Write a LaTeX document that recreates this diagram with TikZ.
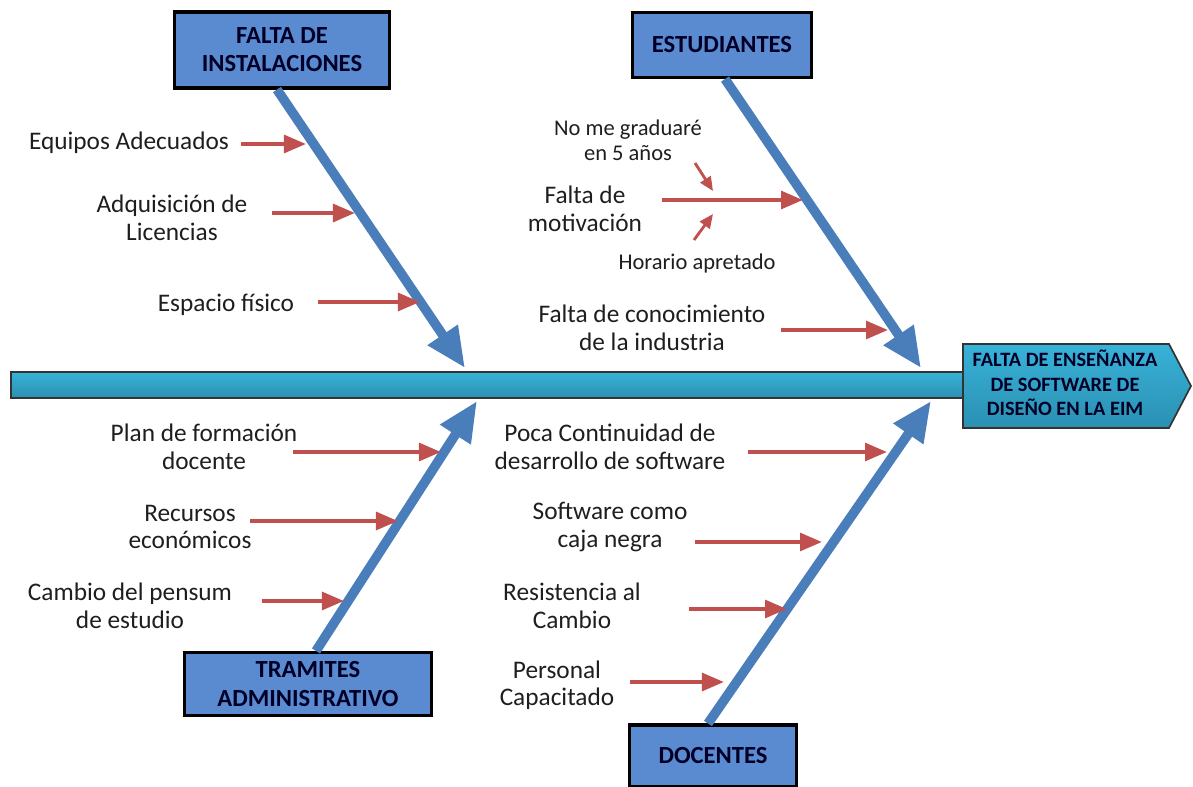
\documentclass[tikz,border=0pt]{standalone}
\usepackage{fontspec}
\setmainfont{Carlito}
\definecolor{BoneBlue}{HTML}{4A7EBB}
\definecolor{BoxBlue}{HTML}{5A8AD0}
\definecolor{SpineTop}{HTML}{38B2D8}
\definecolor{SpineBottom}{HTML}{2A90B2}
\definecolor{CauseRed}{HTML}{C0504D}
\definecolor{LabelText}{HTML}{1E1E1E}
\usetikzlibrary{arrows.meta,calc}

\begin{document}
\begin{tikzpicture}[
  x=0.025cm, y=-0.025cm,
  cat/.style={
    draw=black,
    line width=2.2pt,
    fill=BoxBlue,
    align=center,
    text=black!85!blue,
    font=\fontsize{17.5}{20}\selectfont\bfseries
  },
  lbl/.style={
    align=center,
    text=LabelText,
    font=\fontsize{18}{19.5}\selectfont
  },
  sublbl/.style={lbl, font=\fontsize{16}{17.5}\selectfont},
  tube/.style={draw=black!80, line width=1.2pt, top color=SpineTop, bottom color=SpineBottom},
  bone/.style={BoneBlue, line width=6.8pt, -{Triangle[length=1.0cm,width=0.85cm]}},
  cause/.style={CauseRed, line width=2.9pt, -{Triangle[length=0.55cm,width=0.44cm]}},
  subcause/.style={CauseRed, line width=2pt, -{Triangle[length=0.35cm,width=0.3cm]}}
]
\useasboundingbox (0,0) rectangle (1193,787);

% =========================================================
% SPINE AND EFFECT
% =========================================================

\node[tube, minimum width=23.83cm, minimum height=0.64cm, inner sep=0pt] (spine) at (488,385) {};

% pentagon head, text node on top
\coordinate (headNW) at (963,344);
\coordinate (headSW) at (963,428);
\coordinate (headTip) at (1191,386);
\draw[tube] (headNW) -- (1169,344) -- (headTip) -- (1169,428) -- (headSW) -- cycle;

\node[
  align=center, text=black!85!blue,
  font=\fontsize{14.5}{17.5}\selectfont\bfseries
] (effect) at (1065,383)
{FALTA DE ENSEÑANZA\\DE SOFTWARE DE\\DISEÑO EN LA EIM};

% =========================================================
% CATEGORIES
% =========================================================

\node[cat, minimum width=5.375cm, minimum height=1.9cm] (inst) at (282,50)
{FALTA DE\\INSTALACIONES};

\node[cat, minimum width=4.475cm, minimum height=1.625cm] (estud) at (722,45)
{ESTUDIANTES};

\node[cat, minimum width=6.175cm, minimum height=1.575cm] (tram) at (308,684)
{TRAMITES\\ADMINISTRATIVO};

\node[cat, minimum width=4.175cm, minimum height=1.55cm] (doc) at (713,756)
{DOCENTES};

\coordinate (tipInst) at (465,368);
\coordinate (tipEstud) at (921,368);
\coordinate (tipTram) at (477,401);
\coordinate (tipDoc) at (931,401);

\draw[bone] ([xshift=-0.125cm]inst.south) -- (tipInst);
\draw[bone] ([xshift=0.075cm]estud.south) -- (tipEstud);
\draw[bone] ([xshift=0.2cm]tram.north) -- (tipTram);
\draw[bone] ([xshift=-0.125cm]doc.north) -- (tipDoc);

% =========================================================
% CAUSES -- FALTA DE INSTALACIONES
% =========================================================

\node[lbl] (equipos) at (129,143) {Equipos Adecuados};
\node[lbl] (licencias) at (172,218) {Adquisición de\\Licencias};
\node[lbl] (espacio) at (226,305) {Espacio físico};

\coordinate (equiposA) at (241,144);
\coordinate (equiposB) at (306,144);
\coordinate (licenciasA) at (272,213);
\coordinate (licenciasB) at (355,213);
\coordinate (espacioA) at (318,302);
\coordinate (espacioB) at (420,302);

\draw[cause] (equiposA) -- (equiposB);
\draw[cause] (licenciasA) -- (licenciasB);
\draw[cause] (espacioA) -- (espacioB);

% =========================================================
% CAUSES -- ESTUDIANTES
% =========================================================

\node[sublbl] (gradua) at (628,140) {No me graduaré\\en 5 años};
\node[lbl] (motiva) at (585,209) {Falta de\\motivación};
\node[sublbl] (horario) at (697,264) {Horario apretado};
\node[lbl] (industria) at (652,328) {Falta de conocimiento\\de la industria};

\coordinate (motivaA) at (662,200);
\coordinate (motivaB) at (803,200);
\coordinate (graduaA) at (695,163);
\coordinate (graduaB) at (713,191);
\coordinate (horarioA) at (694,240);
\coordinate (horarioB) at (713,214);
\coordinate (industriaA) at (781,330);
\coordinate (industriaB) at (888,330);

\draw[cause] (motivaA) -- (motivaB);
\draw[subcause] (graduaA) -- (graduaB);
\draw[subcause] (horarioA) -- (horarioB);
\draw[cause] (industriaA) -- (industriaB);

% =========================================================
% CAUSES -- TRAMITES ADMINISTRATIVO
% =========================================================

\node[lbl] (plan) at (204,447) {Plan de formación\\docente};
\node[lbl] (recursos) at (190,527) {Recursos\\económicos};
\node[lbl] (pensum) at (130,606) {Cambio del pensum\\de estudio};

\coordinate (planA) at (293,452);
\coordinate (planB) at (441,452);
\coordinate (recursosA) at (250,521);
\coordinate (recursosB) at (398,521);
\coordinate (pensumA) at (262,601);
\coordinate (pensumB) at (344,601);

\draw[cause] (planA) -- (planB);
\draw[cause] (recursosA) -- (recursosB);
\draw[cause] (pensumA) -- (pensumB);

% =========================================================
% CAUSES -- DOCENTES
% =========================================================

\node[lbl] (continuidad) at (610,447) {Poca Continuidad de\\desarrollo de software};
\node[lbl] (caja) at (610,527) {Software como\\caja negra};
\node[lbl] (resistencia) at (572,606) {Resistencia al\\Cambio};
\node[lbl] (personal) at (557,685) {Personal\\Capacitado};

\coordinate (continuidadA) at (748,452);
\coordinate (continuidadB) at (887,452);
\coordinate (cajaA) at (695,542);
\coordinate (cajaB) at (822,542);
\coordinate (resistenciaA) at (689,609);
\coordinate (resistenciaB) at (787,609);
\coordinate (personalA) at (630,682);
\coordinate (personalB) at (724,682);

\draw[cause] (continuidadA) -- (continuidadB);
\draw[cause] (cajaA) -- (cajaB);
\draw[cause] (resistenciaA) -- (resistenciaB);
\draw[cause] (personalA) -- (personalB);

\end{tikzpicture}
\end{document}
